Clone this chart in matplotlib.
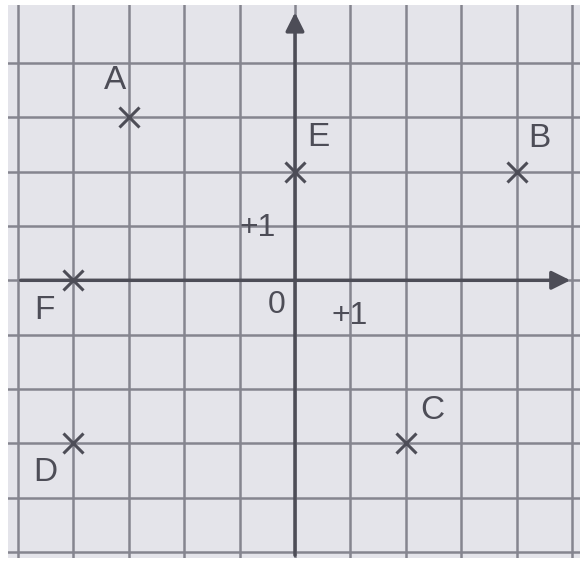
import matplotlib
matplotlib.use('Agg')
from matplotlib import pyplot as plt
import numpy as np

# points on the grid
names = ['A', 'B', 'C', 'D', 'E', 'F']
px = [-3, 4, 2, -4, 0, -4]
py = [3, 2, -3, -3, 2, 0]

# where each letter sits relative to its cross (layout only)
offsets = {'A': (-0.25, 0.68), 'B': (0.42, 0.6), 'C': (0.47, 0.6),
           'D': (-0.5, -0.53), 'E': (0.42, 0.62), 'F': (-0.52, -0.55)}

paper = '#e4e4ea'
gridc = '#85858f'
ink = '#4d4d57'

fig = plt.figure(figsize=(5.84, 5.64), dpi=100)
ax = fig.add_axes([0.0137, 0.0106, 0.979, 0.980])
ax.set_facecolor(paper)
ax.set_xlim(-5.18, 5.14)
ax.set_ylim(-5.11, 5.06)

ax.set_xticks(np.arange(-5, 6))
ax.set_yticks(np.arange(-5, 5))
ax.grid(True, color=gridc, lw=1.8)
ax.tick_params(length=0, labelbottom=False, labelleft=False)
for s in ax.spines.values():
    s.set_visible(False)

# axes with arrows
ax.annotate('', xy=(5.02, 0), xytext=(-5.0, 0),
            arrowprops=dict(arrowstyle='-|>', color=ink, lw=2.5, mutation_scale=28))
ax.annotate('', xy=(0, 4.98), xytext=(0, -5.11),
            arrowprops=dict(arrowstyle='-|>', color=ink, lw=2.5, mutation_scale=28))

ax.plot(px, py, 'x', color=ink, ms=15, mew=2.2, zorder=5)
for n, x, y in zip(names, px, py):
    dx, dy = offsets[n]
    ax.text(x + dx, y + dy, n, fontsize=24, color=ink, family='Liberation Sans',
            ha='center', va='center')

ax.text(-0.67, 0.97, '+1', fontsize=23, color=ink, family='Liberation Sans',
        ha='center', va='center')
ax.text(-0.34, -0.46, '0', fontsize=23, color=ink, family='Liberation Sans',
        ha='center', va='center')
ax.text(0.99, -0.66, '+1', fontsize=23, color=ink, family='Liberation Sans',
        ha='center', va='center')

fig.savefig('out.png', dpi=100, facecolor='white')
